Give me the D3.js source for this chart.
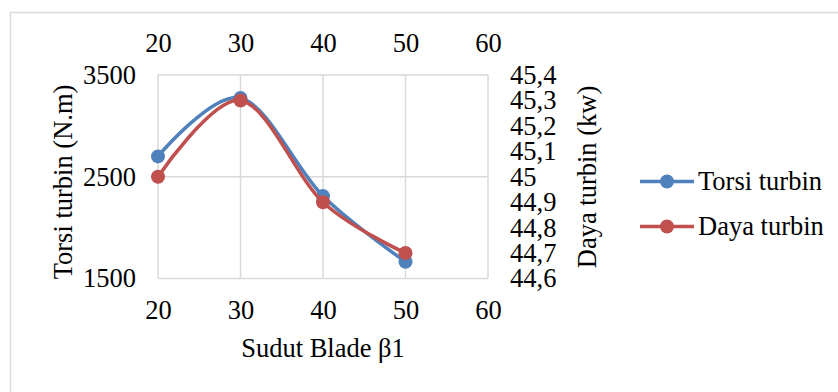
<!DOCTYPE html>
<html>
<head>
<meta charset="utf-8">
<script src="https://cdn.jsdelivr.net/npm/d3@7"></script>
<style>
  body { margin: 0; background: #fff; }
  text { font-family: "Liberation Serif", "Times New Roman", serif; fill: #000; }
</style>
</head>
<body>
<div id="chart"></div>
<script>
// chart data
const sudut = [20, 30, 40, 50];
const torsi = [2700, 3275, 2310, 1665];
const daya = [45.0, 45.3, 44.9, 44.7];
const xTicks = [20, 30, 40, 50, 60];
const torsiTicks = [1500, 2500, 3500];
const dayaTicks = [44.6, 44.7, 44.8, 44.9, 45.0, 45.1, 45.2, 45.3, 45.4];
const seriesNames = ["Torsi turbin", "Daya turbin"];
const seriesColors = ["#4F81BD", "#C0504D"];

const width = 838, height = 392;
const plot = { left: 158, right: 488, top: 75, bottom: 278.5 };
const fontSize = 26.5;

const svg = d3.select("#chart")
  .append("svg")
  .attr("width", width)
  .attr("height", height);

// outer chart border
svg.append("rect")
  .attr("x", 10.5).attr("y", 12.5)
  .attr("width", 840).attr("height", 400)
  .attr("fill", "none")
  .attr("stroke", "#D9D9D9")
  .attr("stroke-width", 1.5);

const x = d3.scaleLinear().domain([20, 60]).range([plot.left, plot.right]);
const yL = d3.scaleLinear().domain([1500, 3500]).range([plot.bottom, plot.top]);
const yR = d3.scaleLinear().domain([44.6, 45.4]).range([plot.bottom, plot.top]);

// gridlines
const grid = svg.append("g").attr("stroke", "#D9D9D9").attr("stroke-width", 1.5);
grid.selectAll("line.v")
  .data(xTicks)
  .enter().append("line")
  .attr("x1", d => x(d)).attr("x2", d => x(d))
  .attr("y1", plot.top).attr("y2", plot.bottom);
grid.selectAll("line.h")
  .data(torsiTicks)
  .enter().append("line")
  .attr("x1", plot.left).attr("x2", plot.right)
  .attr("y1", d => yL(d)).attr("y2", d => yL(d));

// axes
function styleAxis(g) {
  g.select(".domain").remove();
  g.selectAll(".tick line").remove();
  g.selectAll("text")
    .attr("font-size", fontSize)
    .attr("font-family", "Liberation Serif, Times New Roman, serif")
    .attr("fill", "#000");
}

svg.append("g")
  .attr("transform", `translate(0,${plot.bottom})`)
  .call(d3.axisBottom(x).tickValues(xTicks).tickSize(0).tickPadding(22))
  .call(styleAxis);

svg.append("g")
  .attr("transform", `translate(0,${plot.top})`)
  .call(d3.axisTop(x).tickValues(xTicks).tickSize(0).tickPadding(23))
  .call(styleAxis);

svg.append("g")
  .attr("transform", `translate(${plot.left},0)`)
  .call(d3.axisLeft(yL).tickValues(torsiTicks).tickSize(0).tickPadding(22)
    .tickFormat(d3.format("d")))
  .call(styleAxis);

svg.append("g")
  .attr("transform", `translate(${plot.right},0)`)
  .call(d3.axisRight(yR).tickValues(dayaTicks).tickSize(0).tickPadding(22)
    .tickFormat(d => String(+d.toFixed(1)).replace(".", ",")))
  .call(styleAxis);

// axis titles
svg.append("text")
  .attr("x", (plot.left + plot.right) / 2)
  .attr("y", 357)
  .attr("text-anchor", "middle")
  .attr("font-size", fontSize)
  .text("Sudut Blade β1");

svg.append("text")
  .attr("transform", "translate(72,182) rotate(-90)")
  .attr("text-anchor", "middle")
  .attr("font-size", fontSize)
  .text("Torsi turbin (N.m)");

svg.append("text")
  .attr("transform", "translate(596,177) rotate(-90)")
  .attr("text-anchor", "middle")
  .attr("font-size", fontSize)
  .text("Daya turbin (kw)");

// series
const line = d3.line().curve(d3.curveCatmullRom.alpha(0));
const series = [
  sudut.map((s, i) => [x(s), yL(torsi[i])]),
  sudut.map((s, i) => [x(s), yR(daya[i])])
];

series.forEach((pts, k) => {
  const g = svg.append("g");
  g.append("path")
    .attr("d", line(pts))
    .attr("fill", "none")
    .attr("stroke", seriesColors[k])
    .attr("stroke-width", 3.5)
    .attr("stroke-linejoin", "round");
  g.selectAll("circle")
    .data(pts)
    .enter().append("circle")
    .attr("cx", d => d[0]).attr("cy", d => d[1])
    .attr("r", 7)
    .attr("fill", seriesColors[k]);
});

// legend
const legend = svg.append("g");
seriesNames.forEach((name, k) => {
  const ly = 181.5 + k * 45;
  legend.append("line")
    .attr("x1", 640).attr("x2", 694)
    .attr("y1", ly).attr("y2", ly)
    .attr("stroke", seriesColors[k])
    .attr("stroke-width", 3.5);
  legend.append("circle")
    .attr("cx", 667).attr("cy", ly).attr("r", 7)
    .attr("fill", seriesColors[k]);
  legend.append("text")
    .attr("x", 698).attr("y", ly + 8.5)
    .attr("font-size", fontSize)
    .text(name);
});
</script>
</body>
</html>
